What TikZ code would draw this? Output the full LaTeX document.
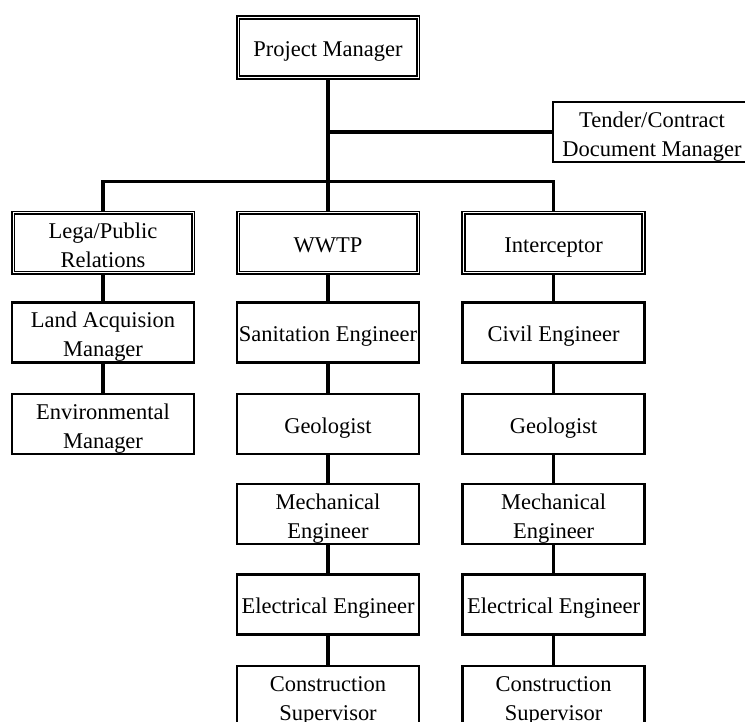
\documentclass[tikz,border=0pt]{standalone}
\usepackage{fontspec}
\setmainfont{Liberation Serif}
\tikzset{
  box/.style={draw, line width=2pt, minimum width=4.55cm, minimum height=1.5cm,
    inner xsep=0pt, inner ysep=0pt, align=center, font=\fontsize{16}{20.6}\selectfont,
    text height=17pt, text depth=4pt},
  twoline/.style={text height=38.4pt},
  dbox/.style={box, line width=1.2pt, double, double distance=0.7pt, minimum width=4.5cm},
  link/.style={line width=2.3pt}
}
\begin{document}
\begin{tikzpicture}
\useasboundingbox (0,0) rectangle (18.625,18.05);
\clip (0,0) rectangle (18.625,18.05);
% top
\node[dbox] (pm) at (8.2,16.86) {Project Manager};
\node[box, twoline, minimum width=4.95cm] (tender) at (16.3,14.75) {Tender/Contract\\Document Manager};
% heads of the three branches
\node[dbox, twoline] (legal) at (2.575,11.975) {Lega/Public\\Relations};
\node[dbox] (wwtp) at (8.2,11.975) {WWTP};
\node[dbox] (interc) at (13.84,11.975) {Interceptor};
% left branch
\node[box, twoline] (land) at (2.575,9.74) {Land Acquision\\Manager};
\node[box, twoline] (env) at (2.575,7.45) {Environmental\\Manager};
% WWTP branch
\node[box] (san) at (8.2,9.74) {Sanitation Engineer};
\node[box] (geoa) at (8.2,7.45) {Geologist};
\node[box, twoline] (mecha) at (8.2,5.2) {Mechanical\\Engineer};
\node[box] (eleca) at (8.2,2.94) {Electrical Engineer};
\node[box, twoline] (consa) at (8.2,0.65) {Construction\\Supervisor};
% interceptor branch
\node[box] (civil) at (13.84,9.74) {Civil Engineer};
\node[box] (geob) at (13.84,7.45) {Geologist};
\node[box, twoline] (mechb) at (13.84,5.2) {Mechanical\\Engineer};
\node[box] (elecb) at (13.84,2.94) {Electrical Engineer};
\node[box, twoline] (consb) at (13.84,0.65) {Construction\\Supervisor};
% connectors
\coordinate (bar) at (8.2,13.51);
\draw[link] (pm.south) -- (wwtp.north);
\draw[link] (pm.south) |- (tender.west);
\draw[link] (legal.north) |- (bar) -| (interc.north);
\draw[link] (legal) -- (land) -- (env);
\draw[link] (wwtp) -- (san) -- (geoa) -- (mecha) -- (eleca) -- (consa);
\draw[link] (interc) -- (civil) -- (geob) -- (mechb) -- (elecb) -- (consb);
\end{tikzpicture}
\end{document}
